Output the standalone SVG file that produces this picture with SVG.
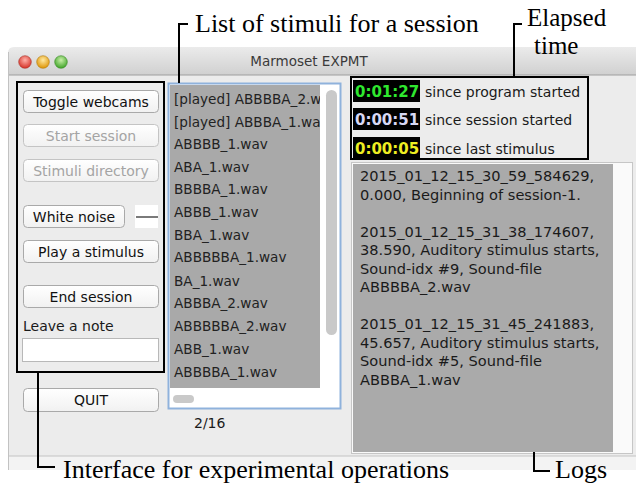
<svg xmlns="http://www.w3.org/2000/svg" width="636" height="485" viewBox="0 0 636 485">
<defs>
<linearGradient id="tb" x1="0" y1="0" x2="0" y2="1"><stop offset="0" stop-color="#ebebeb"/><stop offset="1" stop-color="#d0d0d0"/></linearGradient>
<linearGradient id="btn" x1="0" y1="0" x2="0" y2="1"><stop offset="0" stop-color="#ffffff"/><stop offset="1" stop-color="#f1f1f1"/></linearGradient>
<radialGradient id="red" cx="0.5" cy="0.35" r="0.6"><stop offset="0" stop-color="#ffb0a8"/><stop offset="1" stop-color="#d83a30"/></radialGradient>
<radialGradient id="yel" cx="0.5" cy="0.35" r="0.6"><stop offset="0" stop-color="#ffe9a0"/><stop offset="1" stop-color="#e09a10"/></radialGradient>
<radialGradient id="grn" cx="0.5" cy="0.35" r="0.6"><stop offset="0" stop-color="#c8f0a8"/><stop offset="1" stop-color="#48a830"/></radialGradient>
<clipPath id="listclip"><rect x="170" y="85" width="150" height="303"/></clipPath>
</defs>
<style>
.ui{font-family:"DejaVu Sans",sans-serif;font-size:14px;fill:#1a1a1a}
.btn{fill:url(#btn);stroke:#a9a9a9;stroke-width:1}
.bt{font-family:"DejaVu Sans",sans-serif;font-size:14px;fill:#111;text-anchor:middle}
.dis{fill:#a4a4a4}
.li{font-family:"DejaVu Sans",sans-serif;font-size:13.6px;fill:#222}
.lg{font-family:"DejaVu Sans",sans-serif;font-size:14.6px;fill:#1a1a1a}
.tm{font-family:"DejaVu Sans",sans-serif;font-size:15px;font-weight:bold}
.ann{font-family:"Liberation Serif","Times New Roman",serif;font-size:26px;fill:#000}
.frame{fill:none;stroke:#000;stroke-width:2}
.con{fill:none;stroke:#000;stroke-width:2}
</style>
<rect width="636" height="485" fill="#ffffff"/>
<g id="window">
<rect x="8" y="75" width="628" height="381" fill="#ececec"/>
<rect x="8" y="456" width="628" height="14" fill="#f3f3f3"/>
<line x1="8" y1="456" x2="636" y2="456" stroke="#c4c4c4"/>
<path d="M8,75 V53 Q8,47 14,47 H636 V75 Z" fill="url(#tb)"/>
<line x1="8" y1="75" x2="636" y2="75" stroke="#9e9e9e"/>
<line x1="8.5" y1="52" x2="8.5" y2="470" stroke="#c2c2c2"/>
<circle cx="25" cy="62" r="6.3" fill="url(#red)" stroke="#a83028" stroke-width="0.6"/>
<circle cx="43" cy="62" r="6.3" fill="url(#yel)" stroke="#b07a10" stroke-width="0.6"/>
<circle cx="61" cy="62" r="6.3" fill="url(#grn)" stroke="#3a8a28" stroke-width="0.6"/>
<text x="309" y="66" class="ui" style="font-size:13.5px;fill:#3a3a3a" text-anchor="middle">Marmoset EXPMT</text>
</g>
<g id="controls">
<rect x="23.5" y="90.5" width="135" height="22" rx="4" class="btn"/>
<text x="91" y="107" class="bt">Toggle webcams</text>
<rect x="23.5" y="124.5" width="135" height="22" rx="4" class="btn" style="stroke:#c4c4c4"/>
<text x="91" y="141" class="bt dis">Start session</text>
<rect x="23.5" y="159.5" width="135" height="22" rx="4" class="btn" style="stroke:#c4c4c4"/>
<text x="91" y="176" class="bt dis">Stimuli directory</text>
<rect x="23.5" y="205.5" width="101" height="22" rx="4" class="btn"/>
<text x="74" y="222" class="bt">White noise</text>
<rect x="135" y="205" width="23" height="23" fill="#ffffff"/>
<line x1="136" y1="217" x2="158" y2="217" stroke="#222" stroke-width="1.2"/>
<rect x="23.5" y="240.5" width="135" height="22" rx="4" class="btn"/>
<text x="91" y="257" class="bt">Play a stimulus</text>
<rect x="23.5" y="285.5" width="135" height="22" rx="4" class="btn"/>
<text x="91" y="302" class="bt">End session</text>
<text x="23" y="331" class="ui">Leave a note</text>
<rect x="22.5" y="338.5" width="136" height="23" fill="#ffffff" stroke="#b8b8b8"/>
<rect x="23.5" y="388.5" width="135" height="23" rx="4" class="btn"/>
<text x="91" y="405" class="bt">QUIT</text>
<rect x="17" y="82" width="147" height="290" class="frame"/>
</g>
<g id="stimuli-list">
<rect x="168.5" y="83.5" width="172" height="325" fill="#ffffff" stroke="#8fb2dc" stroke-width="2"/>
<rect x="170" y="85" width="150" height="303" fill="#a9a9a9"/>
<rect x="326" y="90" width="11" height="245" rx="5.5" fill="#c9c9c9"/>
<rect x="173" y="395" width="21" height="8" rx="4" fill="#c9c9c9"/>
<g clip-path="url(#listclip)">
<text x="174" y="104" class="li">[played] ABBBBA_2.wav</text>
<text x="174" y="127" class="li">[played] ABBBA_1.wav</text>
<text x="174" y="149" class="li">ABBBB_1.wav</text>
<text x="174" y="172" class="li">ABA_1.wav</text>
<text x="174" y="194" class="li">BBBBA_1.wav</text>
<text x="174" y="217" class="li">ABBB_1.wav</text>
<text x="174" y="240" class="li">BBA_1.wav</text>
<text x="174" y="262" class="li">ABBBBBA_1.wav</text>
<text x="174" y="286" class="li">BA_1.wav</text>
<text x="174" y="308" class="li">ABBBA_2.wav</text>
<text x="174" y="331" class="li">ABBBBBA_2.wav</text>
<text x="174" y="354" class="li">ABB_1.wav</text>
<text x="174" y="377" class="li">ABBBBA_1.wav</text>
</g>
<text x="194" y="428" class="ui">2/16</text>
</g>
<g id="timers">
<rect x="353" y="80" width="67" height="22" fill="#000"/>
<text x="355" y="97" class="tm" fill="#2fe82f">0:01:27</text>
<text x="425" y="97" class="ui">since program started</text>
<rect x="353" y="108" width="67" height="22" fill="#000"/>
<text x="355" y="125" class="tm" fill="#d8d8f4">0:00:51</text>
<text x="425" y="125" class="ui">since session started</text>
<rect x="353" y="137" width="67" height="21" fill="#000"/>
<text x="355" y="154" class="tm" fill="#eeee22">0:00:05</text>
<text x="425" y="154" class="ui">since last stimulus</text>
<rect x="351" y="77" width="237" height="82" class="frame"/>
</g>
<g id="logs">
<rect x="351.5" y="162.5" width="281" height="291" fill="#fafafa" stroke="#c6c6c6"/>
<rect x="353" y="164" width="260" height="288" fill="#aaaaaa"/>
<text x="360" y="181" class="lg">2015_01_12_15_30_59_584629,</text>
<text x="360" y="199.5" class="lg">0.000, Beginning of session-1.</text>
<text x="360" y="236.5" class="lg">2015_01_12_15_31_38_174607,</text>
<text x="360" y="255" class="lg">38.590, Auditory stimulus starts,</text>
<text x="360" y="273.5" class="lg">Sound-idx #9, Sound-file</text>
<text x="360" y="292" class="lg">ABBBBA_2.wav</text>
<text x="360" y="329" class="lg">2015_01_12_15_31_45_241883,</text>
<text x="360" y="347.5" class="lg">45.657, Auditory stimulus starts,</text>
<text x="360" y="366" class="lg">Sound-idx #5, Sound-file</text>
<text x="360" y="384.5" class="lg">ABBBA_1.wav</text>
</g>
<g id="connectors">
<polyline points="188,24 179,24 179,83" class="con"/>
<polyline points="522,24 514,24 514,77" class="con"/>
<polyline points="38,372 38,467 55,467" class="con"/>
<polyline points="534,452 534,471 550,471" class="con"/>
</g>
<g id="annotations">
<text x="527" y="26" class="ann" style="font-size:25px">Elapsed</text>
<text x="534" y="54" class="ann" style="font-size:25px">time</text>
<text x="195" y="32" class="ann">List of stimuli for a session</text>
<text x="63" y="478" class="ann">Interface for experimental operations</text>
<text x="555" y="478" class="ann">Logs</text>
</g>
</svg>
